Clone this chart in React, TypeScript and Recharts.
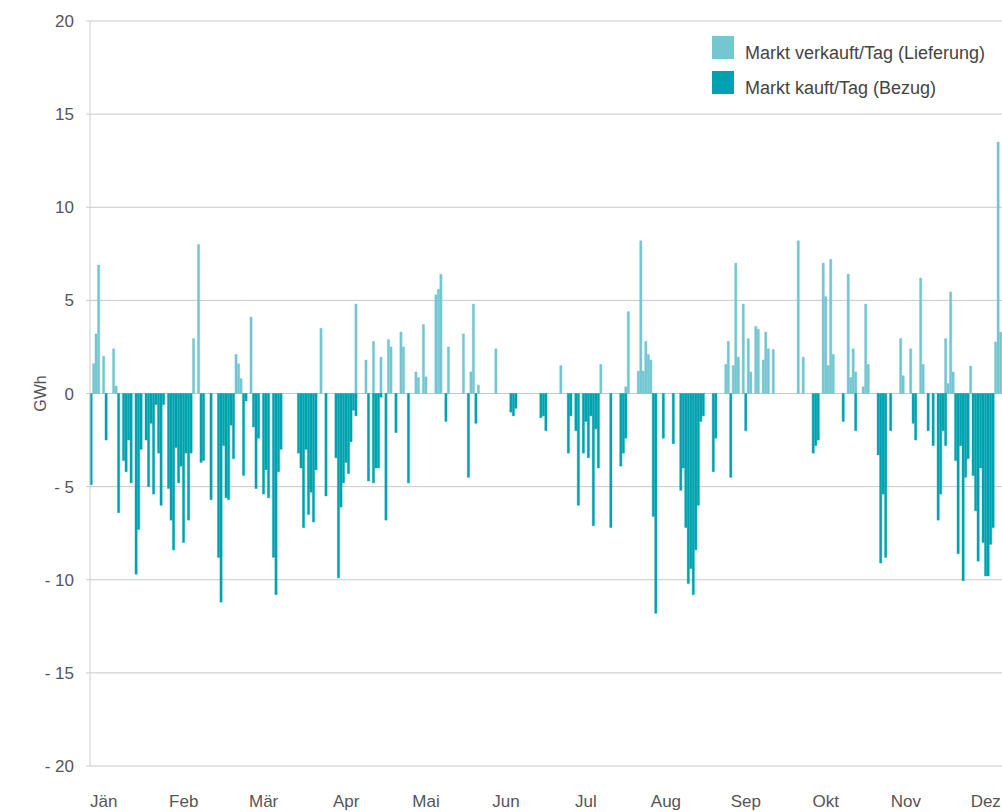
import { Bar, BarChart, CartesianGrid, Label, Legend, XAxis, YAxis } from 'recharts'

const HELL = '#74C6D1'
const DUNKEL = '#00A2B0'

const monate = ['Jän', 'Feb', 'Mär', 'Apr', 'Mai', 'Jun', 'Jul', 'Aug', 'Sep', 'Okt', 'Nov', 'Dez']
// Tag, unter dem das Monatslabel steht
const monatsTicks = [5, 37, 69, 102, 134, 166, 198, 230, 262, 294, 326, 358]
const yTicks = [-20, -15, -10, -5, 0, 5, 10, 15, 20]

// GWh pro Tag, 365 Tage
const lieferung = [
  0, 1.6, 3.2, 6.9, 0, 2.0, 0, 0, 0, 2.4,
  0.4, 0, 0, 0, 0, 0, 0, 0, 0, 0,
  0, 0, 0, 0, 0, 0, 0, 0, 0, 0,
  0, 0, 0, 0, 0, 0, 0, 0, 0, 0,
  0, 2.95, 0, 8.0, 0, 0, 0, 0, 0, 0,
  0, 0, 0, 0, 0, 0, 0, 0, 2.1, 1.6,
  0.8, 0, 0, 0, 4.1, 0, 0, 0, 0, 0,
  0, 0, 0, 0, 0, 0, 0, 0, 0, 0,
  0, 0, 0, 0, 0, 0, 0, 0, 0, 0,
  0, 0, 3.5, 0, 0, 0, 0, 0, 0, 0,
  0, 0, 0, 0, 0, 0, 4.8, 0, 0, 0,
  1.8, 0, 0, 2.8, 0, 0, 1.95, 0, 0, 2.9,
  2.5, 0, 0, 0, 3.3, 2.5, 0, 0, 0, 0,
  1.16, 0.86, 0, 3.7, 0.9, 0, 0, 0, 5.3, 5.6,
  6.4, 0, 0, 2.5, 0, 0, 0, 0, 0, 3.2,
  0, 0, 1.16, 4.8, 0, 0.45, 0, 0, 0, 0,
  0, 0, 2.4, 0, 0, 0, 0, 0, 0, 0,
  0, 0, 0, 0, 0, 0, 0, 0, 0, 0,
  0, 0, 0, 0, 0, 0, 0, 0, 1.5, 0,
  0, 0, 0, 0, 0, 0, 0, 0, 0, 0,
  0, 0, 0, 0, 1.56, 0, 0, 0, 0, 0,
  0, 0, 0, 0, 0.36, 4.4, 0, 0, 0, 1.2,
  8.2, 1.2, 2.8, 2.1, 1.8, 0, 0, 0, 0, 0,
  0, 0, 0, 0, 0, 0, 0, 0, 0, 0,
  0, 0, 0, 0, 0, 0, 0, 0, 0, 0,
  0, 0, 0, 0, 1.56, 2.8, 0, 1.5, 7.0, 1.95,
  0, 4.8, 0, 2.95, 1.16, 0, 3.6, 3.45, 0, 1.8,
  3.3, 2.4, 0, 2.36, 0, 0, 0, 0, 0, 0,
  0, 0, 0, 8.2, 0, 1.95, 0, 0, 0, 0,
  0, 0, 0, 7.0, 5.2, 1.5, 7.2, 2.1, 0, 0,
  0, 0, 0, 6.4, 0.86, 2.4, 1.16, 0, 0, 0.36,
  4.8, 1.56, 0, 0, 0, 0, 0, 0, 0, 0,
  0, 0, 0, 0, 2.95, 0.95, 0, 0, 2.4, 0,
  0, 0, 6.2, 1.56, 0, 0, 0, 0, 0, 0,
  0, 0, 2.95, 0.54, 5.45, 1.16, 0, 0, 0, 0,
  0, 0, 1.47, 0, 0, 0, 0, 0, 0, 0,
  0, 0, 2.77, 13.5, 3.3,
]

const bezug = [
  -4.9, 0, 0, 0, 0, 0, -2.5, 0, 0, 0,
  0, -6.4, 0, -3.6, -4.2, -2.5, -4.8, 0, -9.7, -7.3,
  -3.0, 0, -2.5, -5.0, -1.6, -5.4, -0.6, -3.2, -6.0, -0.6,
  0, -5.1, -6.8, -8.4, -2.9, -4.8, -3.9, -8.0, -3.2, -6.8,
  -3.2, 0, 0, 0, -3.7, -3.6, 0, 0, -5.7, 0,
  0, -8.8, -11.2, -2.8, -5.6, -5.7, -1.7, -3.5, 0, 0,
  0, -4.4, -0.4, 0, 0, -1.8, -5.1, -2.4, 0, -5.4,
  -4.1, -5.6, 0, -8.8, -10.8, -4.2, -3.0, 0, 0, 0,
  0, 0, 0, -3.2, -4.0, -7.2, -3.0, -6.5, -5.3, -6.9,
  -4.1, 0, 0, 0, -5.5, 0, 0, 0, -3.45, -9.9,
  -6.1, -4.8, -3.7, -4.3, -2.6, -0.9, -1.2, 0, 0, 0,
  0, -4.7, 0, -4.8, -4.0, -4.0, -0.2, 0, -6.8, 0,
  0, 0, -2.1, 0, 0, 0, 0, -4.8, 0, 0,
  0, 0, 0, 0, 0, 0, 0, 0, 0, 0,
  0, 0, -1.5, 0, 0, 0, 0, 0, 0, 0,
  0, -4.5, 0, 0, -1.6, 0, 0, 0, 0, 0,
  0, 0, 0, 0, 0, 0, 0, 0, -1.0, -1.2,
  -0.8, 0, 0, 0, 0, 0, 0, 0, 0, 0,
  -1.3, -1.2, -2.0, 0, 0, 0, 0, 0, 0, 0,
  0, -3.2, -1.2, 0, -2.0, -6.0, 0, -3.2, -1.5, -3.45,
  -1.2, -7.1, -1.9, -4.0, 0, 0, 0, 0, -7.2, 0,
  0, 0, -3.9, -3.2, -2.4, 0, 0, 0, 0, 0,
  0, 0, 0, 0, 0, -6.6, -11.8, 0, 0, -2.4,
  0, 0, 0, -2.7, 0, 0, -5.2, -4.0, -7.2, -10.2,
  -9.4, -10.8, -8.4, -6.0, -1.5, -1.2, 0, 0, 0, -4.2,
  -2.4, 0, 0, 0, 0, 0, -4.5, 0, 0, 0,
  0, 0, -2.0, 0, 0, 0, 0, 0, 0, 0,
  0, 0, 0, 0, 0, 0, 0, 0, 0, 0,
  0, 0, 0, 0, 0, 0, 0, 0, 0, -3.2,
  -2.8, -2.5, 0, 0, 0, 0, 0, 0, 0, 0,
  0, -1.5, 0, 0, 0, 0, -2.0, 0, 0, 0,
  0, 0, 0, 0, 0, -3.3, -9.1, -5.4, -8.8, 0,
  -2.0, 0, 0, 0, 0, 0, 0, 0, 0, -1.6,
  -2.5, 0, 0, 0, 0, -2.0, 0, -2.8, 0, -6.8,
  -5.4, -2.0, -2.8, 0, 0, 0, -3.6, -8.6, -2.8, -10.05,
  -4.5, -3.5, 0, -4.4, -6.3, -9.0, -4.0, -8.0, -9.8, -9.8,
  -8.1, -7.2, 0, 0, 0,
]

const legendItems = [
  { label: 'Markt verkauft/Tag (Lieferung)', color: HELL },
  { label: 'Markt kauft/Tag (Bezug)', color: DUNKEL },
]

const data = lieferung.map((v, i) => ({ tag: i, lieferung: v, bezug: bezug[i] }))

const FONT = '"Liberation Sans", Arial, sans-serif'

const renderLegend = () => (
  <div>
    {legendItems.map((item) => (
      <div key={item.label} style={{ display: 'flex', alignItems: 'flex-end', height: 35 }}>
        <span style={{ display: 'inline-block', width: 22, height: 23, background: item.color, marginRight: 11 }} />
        <span style={{ fontSize: 18, color: '#444', lineHeight: '18px', marginBottom: -3, whiteSpace: 'nowrap' }}>
          {item.label}
        </span>
      </div>
    ))}
  </div>
)

export default function App() {
  // body margin moved into padding so the plot can run to the right edge
  return (
    <div style={{ width: 1002, height: 812, boxSizing: 'border-box', padding: '8px 0 0 8px', fontFamily: FONT }}>
      <style>{'body { margin: 0; }'}</style>
      <BarChart
        width={994}
        height={804}
        data={data}
        stackOffset="sign"
        barCategoryGap={0}
        margin={{ top: 13, right: 0, bottom: 16, left: 0 }}
      >
        <CartesianGrid vertical={false} stroke="#c8c8c8" />
        <XAxis
          dataKey="tag"
          type="category"
          ticks={monatsTicks}
          interval={0}
          axisLine={false}
          tickLine={false}
          tickSize={0}
          tickMargin={29}
          height={30}
          tickFormatter={(v: number) => monate[monatsTicks.indexOf(v)]}
          tick={{ fontSize: 17, fill: '#555' }}
        />
        <YAxis
          domain={[-20, 20]}
          ticks={yTicks}
          width={82}
          stroke="#cccccc"
          tickSize={4}
          tickMargin={12}
          tickFormatter={(v: number) => (v < 0 ? `- ${Math.abs(v)}` : `${v}`)}
          tick={{ fontSize: 17, fill: '#555' }}
        >
          <Label value="GWh" angle={-90} position="center" dx={-9} style={{ fontSize: 16, fill: '#555' }} />
        </YAxis>
        <Legend
          layout="vertical"
          align="center"
          verticalAlign="middle"
          content={renderLegend}
          wrapperStyle={{ top: 16, left: 704, width: 290 }}
        />
        <Bar dataKey="lieferung" stackId="a" barSize={2.5} fill={HELL} stroke={HELL} strokeWidth={0.4} isAnimationActive={false} />
        <Bar dataKey="bezug" stackId="a" barSize={2.5} fill={DUNKEL} stroke={DUNKEL} strokeWidth={0.4} isAnimationActive={false} />
      </BarChart>
    </div>
  )
}
